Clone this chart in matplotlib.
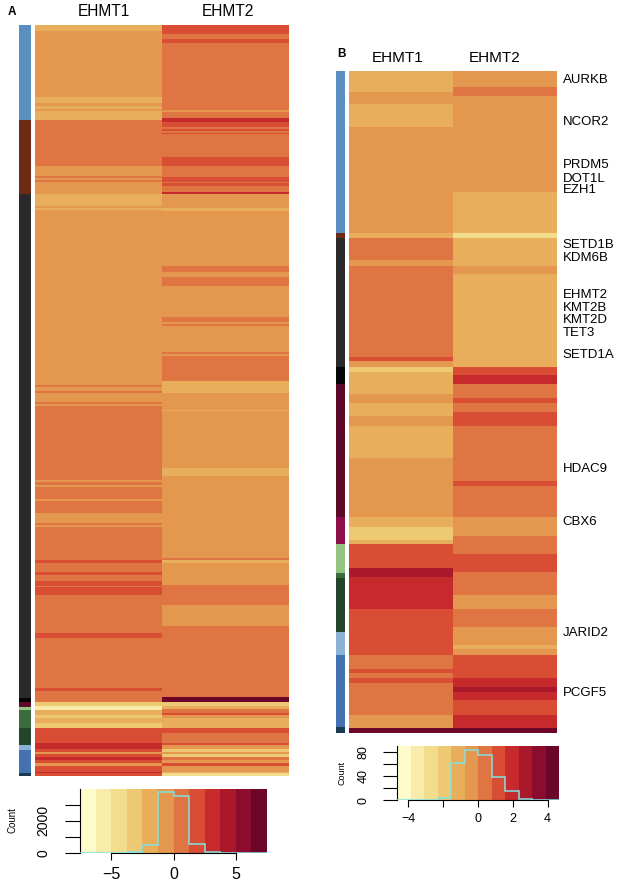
import matplotlib.pyplot as plt
import numpy as np
from matplotlib.colors import ListedColormap, to_rgb

plt.rcParams["font.family"] = ["Liberation Sans", "DejaVu Sans"]

W, H = 619, 886

# 12 colour levels of the key (light yellow -> dark red)
key_colors = ["#FEFBCB", "#F9EBAA", "#F2DD8D", "#EDC974", "#E8AE5C", "#E4974F",
              "#E07544", "#D94D35", "#C62A2D", "#A9192B", "#8B0C2C", "#6C0629"]

group_colors = {
    "blue": "#5B8FBF", "brown": "#6E2A15", "darkgray": "#2A2A2A", "black": "#050505",
    "maroon": "#5C0A28", "magenta": "#8C0F4A", "lightgreen": "#94C47F", "green": "#3D6B40",
    "darkgreen": "#25442C", "lightblue": "#8DB0D6", "blue2": "#4472B0", "navy": "#1D3A55",
}

columns = ["EHMT1", "EHMT2"]

# ---- panel A: (start row, colour level) ----
a_rows = 751
a_ehmt1 = [(0, 4), (7, 5), (73, 4), (79, 5), (82, 4), (85, 5), (87, 4), (96, 6), (142, 5),
           (152, 6), (154, 5), (156, 6), (158, 5), (170, 4), (182, 5), (184, 4), (186, 5),
           (361, 6), (363, 5), (367, 6), (369, 5), (377, 6), (379, 5), (381, 6), (455, 5),
           (457, 6), (460, 5), (462, 6), (474, 5), (476, 6), (488, 5), (498, 6), (500, 5),
           (502, 6), (535, 7), (538, 6), (547, 7), (550, 6), (556, 7), (561, 6), (562, 7),
           (570, 6), (608, 7), (613, 6), (663, 7), (666, 6), (677, 3), (681, 1), (685, 4),
           (690, 3), (693, 4), (698, 3), (703, 7), (718, 8), (724, 7), (727, 5), (729, 7),
           (732, 8), (735, 7), (738, 5), (741, 7), (747, 8), (748, 7)]
a_ehmt2 = [(0, 7), (10, 6), (15, 7), (19, 6), (86, 5), (88, 6), (94, 8), (98, 7), (103, 6),
           (105, 7), (107, 6), (109, 7), (110, 6), (133, 7), (142, 6), (153, 7), (158, 6),
           (159, 7), (162, 6), (168, 8), (170, 5), (184, 4), (187, 5), (242, 6), (248, 5),
           (253, 6), (262, 5), (293, 6), (298, 5), (300, 6), (302, 5), (328, 6), (330, 5),
           (332, 6), (357, 4), (369, 5), (385, 4), (386, 5), (443, 4), (451, 5), (533, 6),
           (535, 4), (538, 5), (560, 6), (580, 5), (601, 6), (672, 11), (677, 3), (681, 4),
           (684, 6), (688, 7), (690, 5), (693, 4), (703, 7), (708, 6), (718, 7), (720, 5),
           (724, 3), (727, 5), (729, 3), (732, 6), (735, 5), (738, 7), (741, 5), (747, 4),
           (748, 2)]
a_groups = [(0, "blue"), (96, "brown"), (170, "darkgray"), (673, "black"), (677, "maroon"),
            (682, "lightgreen"), (685, "green"), (703, "darkgreen"), (720, "lightblue"),
            (725, "blue2"), (748, "navy")]
a_breaks = np.linspace(-7.5, 7.5, 13)
a_counts = [0, 0, 0, 30, 465, 3800, 3565, 547, 30, 0, 0, 0]

# ---- panel B ----
b_rows = 662
b_ehmt1 = [(0, 4), (21, 5), (33, 4), (56, 5), (162, 4), (167, 6), (189, 5), (195, 6),
           (286, 7), (290, 5), (296, 3), (301, 4), (323, 5), (332, 4), (345, 5), (355, 4),
           (387, 5), (446, 4), (456, 3), (469, 4), (473, 7), (497, 9), (506, 8), (538, 7),
           (584, 6), (598, 7), (602, 6), (607, 7), (612, 6), (644, 5), (657, 11)]
b_ehmt2 = [(0, 5), (16, 6), (25, 5), (121, 4), (162, 2), (167, 4), (195, 5), (203, 4),
           (296, 7), (304, 8), (313, 6), (327, 7), (332, 6), (341, 7), (355, 6), (410, 7),
           (415, 6), (446, 5), (465, 6), (483, 7), (501, 6), (524, 5), (538, 6), (556, 5),
           (574, 4), (578, 5), (584, 7), (607, 8), (616, 9), (621, 8), (629, 7), (644, 8),
           (657, 11)]
b_groups = [(0, "blue"), (162, "brown"), (167, "darkgray"), (296, "black"), (313, "maroon"),
            (446, "magenta"), (473, "lightgreen"), (502, "green"), (507, "darkgreen"),
            (561, "lightblue"), (584, "blue2"), (656, "navy")]
b_genes = ["AURKB", "NCOR2", "PRDM5", "DOT1L", "EZH1", "SETD1B", "KDM6B", "EHMT2", "KMT2B",
           "KMT2D", "TET3", "SETD1A", "HDAC9", "CBX6", "JARID2", "PCGF5"]
b_gene_rows = [6.7, 49, 92.3, 105.7, 117.3, 172.3, 185, 222.3, 235, 247.3, 260, 281.7,
               395.7, 449, 559.7, 620]
b_breaks = np.linspace(-4.65, 4.65, 13)
b_counts = [0, 0, 1, 3, 62, 83, 74, 38, 15, 2, 0, 1]


def expand(segs, n):
    out = [None] * n
    ends = [s for s, _ in segs[1:]] + [n]
    for (s, val), e in zip(segs, ends):
        out[s:e] = [val] * (e - s)
    return out


def rect(x0, y0, x1, y1):
    return [x0 / W, 1 - y1 / H, (x1 - x0) / W, (y1 - y0) / H]


cmap = ListedColormap(key_colors)


def draw_panel(fig, side_box, heat_box, col1, col2, groups, n, col_fs, col_pad, col_pos):
    ax_s = fig.add_axes(rect(*side_box))
    side = np.array([to_rgb(group_colors[g]) for g in expand(groups, n)])[:, None, :]
    ax_s.imshow(side, aspect="auto", interpolation="nearest")
    ax_s.axis("off")

    ax = fig.add_axes(rect(*heat_box))
    mat = np.column_stack([expand(col1, n), expand(col2, n)])
    ax.imshow(mat, cmap=cmap, vmin=-0.5, vmax=11.5, aspect="auto", interpolation="nearest")
    for s in ax.spines.values():
        s.set_visible(False)
    ax.set_xticks(col_pos)
    ax.set_xticklabels(columns, fontsize=col_fs)
    ax.xaxis.tick_top()
    ax.tick_params(axis="x", length=0, pad=col_pad)
    ax.set_yticks([])
    return ax


def draw_key(fig, box, breaks, counts, top, xticks, xlabels, yticks, ylabels, xfs, yfs,
             bounds, ytick_len, ypad, xpad):
    ax = fig.add_axes(rect(*box))
    ax.pcolormesh(breaks, [0, top], np.arange(12)[None, :], cmap=cmap, vmin=-0.5, vmax=11.5)
    ax.stairs(counts, breaks, color="#7FE3E3", lw=1.1, zorder=3)
    ax.set_xlim(breaks[0], breaks[-1])
    ax.set_ylim(0, top)
    ax.spines["top"].set_visible(False)
    ax.spines["right"].set_visible(False)
    ax.spines["bottom"].set_bounds(*bounds)
    ax.set_xticks(xticks)
    ax.set_xticklabels(xlabels, fontsize=xfs)
    ax.set_yticks(yticks)
    ax.set_yticklabels(ylabels, fontsize=yfs, rotation=90, va="center")
    ax.tick_params(axis="x", length=5, pad=xpad)
    ax.tick_params(axis="y", length=ytick_len, pad=ypad)
    return ax


fig = plt.figure(figsize=(W / 100, H / 100), dpi=100)

# panel A
draw_panel(fig, (19, 25, 31, 776), (35, 25, 289, 776), a_ehmt1, a_ehmt2, a_groups,
           a_rows, 11.2, 4, [0.04, 1.02])
draw_key(fig, (80, 789, 267, 852.7), a_breaks, a_counts, 4000, [-5, 0, 5],
         ["\u22125", "0", "5"], [0, 1000, 2000, 3000], ["0", "", "2000", ""], 11.5, 10,
         (-5, 5), 10.5, 11, 5.5)
fig.text(11.5 / W, 1 - 11.7 / H, "A", fontsize=8.5, fontweight="bold", ha="center", va="center")
fig.text(12.5 / W, 1 - 820 / H, "Count", fontsize=7, rotation=90, ha="center", va="center")

# panel B
ax_b = draw_panel(fig, (336, 71, 345, 733), (349, 71, 557, 733), b_ehmt1, b_ehmt2, b_groups,
                  b_rows, 11, 4, [-0.03, 0.9])
ax_b.yaxis.tick_right()
ax_b.set_yticks(b_gene_rows)
ax_b.set_yticklabels(b_genes, fontsize=9.5)
ax_b.tick_params(axis="y", length=0, pad=4)
draw_key(fig, (397, 746.3, 559, 800.3), b_breaks, b_counts, 89, [-4, -2, 0, 2, 4],
         ["\u22124", "", "0", "2", "4"], [0, 20, 40, 60, 80], ["0", "", "40", "", "80"],
         9, 9, (-4, 4), 10, 10, 4.5)
fig.text(341 / W, 1 - 54 / H, "B", fontsize=8.5, fontweight="bold", ha="center", va="center")
fig.text(342 / W, 1 - 773 / H, "Count", fontsize=6.5, rotation=90, ha="center", va="center")

fig.savefig("out.png", dpi=100)
